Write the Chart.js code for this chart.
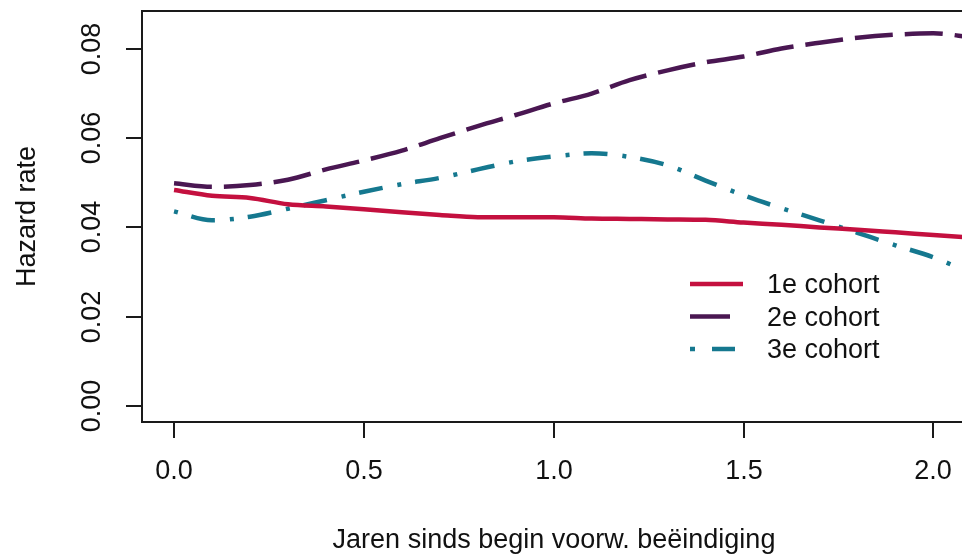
<!DOCTYPE html>
<html>
<head>
<meta charset="utf-8">
<script src="https://cdn.jsdelivr.net/npm/chart.js@4"></script>
<style>
  html, body { margin: 0; padding: 0; background: #fff; overflow: hidden; }
</style>
</head>
<body>
<canvas id="hazard" width="970" height="556"></canvas>
<script>
// years since start (x values)
const years = [0, 0.1, 0.2, 0.3, 0.4, 0.5, 0.6, 0.7, 0.8, 0.9, 1.0,
               1.1, 1.2, 1.3, 1.4, 1.5, 1.6, 1.7, 1.8, 1.9, 2.0, 2.1];

const cohort1 = [0.0484, 0.0471, 0.0466, 0.0452, 0.0447, 0.0441, 0.0434, 0.0428, 0.0423, 0.0423, 0.0423,
                 0.0420, 0.0419, 0.0418, 0.0417, 0.0411, 0.0406, 0.0400, 0.0395, 0.0389, 0.0383, 0.0377];
const cohort2 = [0.0499, 0.0491, 0.0495, 0.0507, 0.0530, 0.0550, 0.0572, 0.0600, 0.0627, 0.0652, 0.0678,
                 0.0700, 0.0730, 0.0752, 0.0770, 0.0783, 0.0801, 0.0814, 0.0825, 0.0832, 0.0835, 0.0826];
const cohort3 = [0.0436, 0.0416, 0.0424, 0.0442, 0.0461, 0.0480, 0.0497, 0.0511, 0.0530, 0.0548, 0.0559,
                 0.0566, 0.0558, 0.0539, 0.0505, 0.0472, 0.0443, 0.0416, 0.0388, 0.0360, 0.0333, 0.0297];

const seriesNames = ["1e cohort", "2e cohort", "3e cohort"];

const xTicks = [0, 0.5, 1.0, 1.5, 2.0];
const xTickLabels = ["0.0", "0.5", "1.0", "1.5", "2.0"];
const yTicks = [0, 0.02, 0.04, 0.06, 0.08];
const yTickLabels = ["0.00", "0.02", "0.04", "0.06", "0.08"];

const xTitle = "Jaren sinds begin voorw. beëindiging";
const yTitle = "Hazard rate";

const FONT = '27px "Liberation Sans", Arial, sans-serif';
const INK = "#111";

function pts(vals) {
  return vals.map((v, i) => ({ x: years[i], y: v }));
}

// R-style box, outward ticks, rotated y labels, legend inside plot
const rAxes = {
  id: "rAxes",
  afterDraw(chart) {
    const { ctx, chartArea: a, scales: { x, y } } = chart;
    ctx.save();
    ctx.strokeStyle = "#1a1a1a";
    ctx.lineWidth = 2;
    ctx.strokeRect(a.left, a.top, a.right - a.left, a.bottom - a.top);

    ctx.fillStyle = INK;
    ctx.font = FONT;
    ctx.textAlign = "center";
    ctx.textBaseline = "middle";

    xTicks.forEach((t, i) => {
      const px = Math.round(x.getPixelForValue(t));
      ctx.beginPath();
      ctx.moveTo(px, a.bottom);
      ctx.lineTo(px, a.bottom + 16);
      ctx.stroke();
      ctx.fillText(xTickLabels[i], px, 472);
    });

    yTicks.forEach((t, i) => {
      const py = Math.round(y.getPixelForValue(t));
      ctx.beginPath();
      ctx.moveTo(a.left, py);
      ctx.lineTo(a.left - 16, py);
      ctx.stroke();
      ctx.save();
      ctx.translate(93, py);
      ctx.rotate(-Math.PI / 2);
      ctx.fillText(yTickLabels[i], 0, 0);
      ctx.restore();
    });

    ctx.fillText(xTitle, (a.left + a.right) / 2, 541);
    ctx.save();
    ctx.translate(28, (a.top + a.bottom) / 2);
    ctx.rotate(-Math.PI / 2);
    ctx.fillText(yTitle, 0, 0);
    ctx.restore();

    // legend
    const legendDash = [[], [], [5, 17, 23, 20]];
    const legendEnd = [743, 730, 735];
    chart.data.datasets.forEach((ds, i) => {
      const ly = 284 + i * 32.5;
      ctx.save();
      ctx.strokeStyle = ds.borderColor;
      ctx.lineWidth = ds.borderWidth;
      ctx.setLineDash(legendDash[i]);
      ctx.beginPath();
      ctx.moveTo(690, ly);
      ctx.lineTo(legendEnd[i], ly);
      ctx.stroke();
      ctx.restore();
      ctx.textAlign = "left";
      ctx.fillText(ds.label, 767, ly + 2);
    });
    ctx.restore();
  }
};

new Chart(document.getElementById("hazard"), {
  type: "line",
  data: {
    datasets: [
      {
        label: seriesNames[0],
        data: pts(cohort1),
        borderColor: "#c4103f",
        borderWidth: 4.5
      },
      {
        label: seriesNames[1],
        data: pts(cohort2),
        borderColor: "#4a1752",
        borderWidth: 4.5,
        borderDash: [38, 12]
      },
      {
        label: seriesNames[2],
        data: pts(cohort3),
        borderColor: "#15788f",
        borderWidth: 4.5,
        borderDash: [4, 14, 24, 15]
      }
    ]
  },
  options: {
    responsive: false,
    devicePixelRatio: 1,
    animation: false,
    layout: { padding: { left: 142, top: 11, right: 4, bottom: 134 } },
    elements: {
      point: { radius: 0 },
      line: { cubicInterpolationMode: "monotone", fill: false }
    },
    plugins: {
      legend: { display: false },
      tooltip: { enabled: false }
    },
    scales: {
      x: { type: "linear", display: false, min: -0.0844, max: 2.086 },
      y: { type: "linear", display: false, min: -0.0036, max: 0.0885 }
    }
  },
  plugins: [rAxes]
});
</script>
</body>
</html>
